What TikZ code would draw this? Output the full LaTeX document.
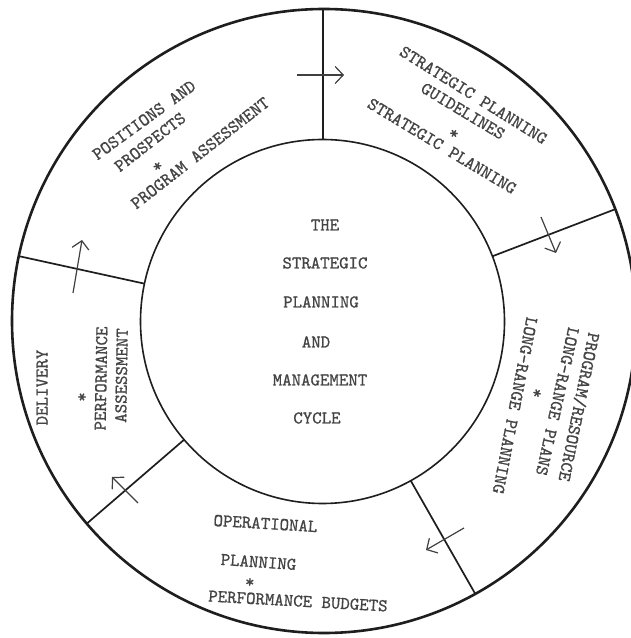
\documentclass[tikz,border=0pt]{standalone}
\usepackage{fontspec}
\newfontfamily\typew{lmmono10-regular.otf}[FakeBold=0.8]
\usetikzlibrary{arrows.meta}
\definecolor{ink}{HTML}{1E1E1E}
\definecolor{typ}{HTML}{444444}
\begin{document}
\begin{tikzpicture}[x=1pt,y=1pt,
  lbl/.style={font=\typew\fontsize{18}{20}\selectfont, text=typ, inner sep=0pt, text height=11pt, text depth=0pt},
  starlbl/.style={lbl},
  outerring/.style={draw=ink, line width=2.6pt},
  innerring/.style={draw=ink, line width=1.6pt},
  divider/.style={draw=ink, line width=1.7pt},
  flow/.style={draw=ink!85, line width=1.2pt, -{Straight Barb[length=8pt,width=17pt,line width=1.2pt]}}]
\useasboundingbox (0,0) rectangle (631,638);
\fill[white] (0,0) rectangle (631,638);
% centres
\coordinate (O) at (324,317);
\coordinate (I) at (322.5,316.5);
% rings
\draw[outerring] (O) circle[radius=312pt];
\draw[innerring] (I) circle[radius=182pt];
% dividers
\coordinate (d1i) at (323,498.5);
\coordinate (d1o) at (323,629);
\coordinate (d2i) at ([shift={(21:182pt)}]I);
\coordinate (d2o) at ([shift={(21:312pt)}]O);
\coordinate (d3i) at ([shift={(-61:182pt)}]I);
\coordinate (d3o) at ([shift={(-61:312pt)}]O);
\coordinate (d4i) at ([shift={(220.5:182pt)}]I);
\coordinate (d4o) at ([shift={(220.5:312pt)}]O);
\coordinate (d5i) at ([shift={(168:182pt)}]I);
\coordinate (d5o) at ([shift={(168:312pt)}]O);
\draw[divider] (d1i) -- (d1o);
\draw[divider] (d2i) -- (d2o);
\draw[divider] (d3i) -- (d3o);
\draw[divider] (d4i) -- (d4o);
\draw[divider] (d5i) -- (d5o);
% arrows
\coordinate (a1s) at (297,563); \coordinate (a1e) at (344,563);
\coordinate (a2s) at (541,421); \coordinate (a2e) at (556,385);
\coordinate (a3s) at (464,110); \coordinate (a3e) at (426,88);
\coordinate (a4s) at (138,135); \coordinate (a4e) at (112,161);
\coordinate (a5s) at (73,345);  \coordinate (a5e) at (82,398);
\draw[flow] (a1s) -- (a1e);
\draw[flow] (a2s) -- (a2e);
\draw[flow] (a3s) -- (a3e);
\draw[flow] (a4s) -- (a4e);
\draw[flow] (a5s) -- (a5e);
% centre text
\node[lbl] (c1) at (325,413) {THE};
\node[lbl] (c2) at (325,375) {STRATEGIC};
\node[lbl] (c3) at (321,336) {PLANNING};
\node[lbl] (c4) at (316,296) {AND};
\node[lbl] (c5) at (320,258) {MANAGEMENT};
\node[lbl] (c6) at (317,220) {CYCLE};
% top-left segment
\node[lbl, rotate=36] (tl1) at (144,518) {POSITIONS AND};
\node[lbl, rotate=38] (tl2) at (150,496) {PROSPECTS};
\node[starlbl, rotate=38] (tl3) at (155,475) {\raisebox{-4pt}{*}};
\node[lbl, rotate=38] (tl4) at (200,485) {PROGRAM ASSESSMENT};
% top-right segment
\node[lbl, rotate=-32] (tr1) at (473.5,543) {STRATEGIC PLANNING};
\node[lbl, rotate=-31] (tr2) at (463,527) {GUIDELINES};
\node[starlbl, rotate=-31] (tr3) at (456,508) {\raisebox{-4pt}{*}};
\node[lbl, rotate=-31] (tr4) at (442,492) {STRATEGIC PLANNING};
% right segment
\node[lbl, rotate=-101.5] (r1) at (579,231) {PROGRAM/RESOURCE};
\node[lbl, rotate=-102.5] (r2) at (557.5,236.5) {LONG-RANGE PLANS};
\node[starlbl, rotate=-102] (r3) at (541,244) {\raisebox{-4pt}{*}};
\node[lbl, rotate=-101] (r4) at (515,232.5) {LONG-RANGE PLANNING};
% bottom segment
\node[lbl, rotate=-3.5] (b1) at (265.5,114.5) {OPERATIONAL};
\node[lbl, rotate=-4] (b2) at (258.5,76) {PLANNING};
\node[starlbl, rotate=-3] (b3) at (250,60) {\raisebox{-4pt}{*}};
\node[lbl, rotate=-3.2] (b4) at (298,37) {PERFORMANCE BUDGETS};
% left segment
\node[lbl, rotate=90] (l1) at (42,250.5) {DELIVERY};
\node[starlbl, rotate=90] (l2) at (78,241) {\raisebox{-4pt}{*}};
\node[lbl, rotate=89] (l3) at (101,259.5) {PERFORMANCE};
\node[lbl, rotate=89] (l4) at (121.5,262.5) {ASSESSMENT};
\end{tikzpicture}
\end{document}
